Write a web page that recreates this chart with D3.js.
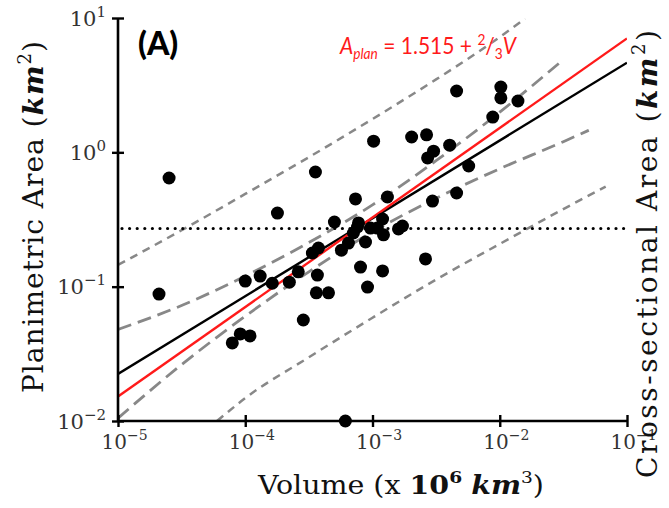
<!DOCTYPE html>
<html>
<head>
<meta charset="utf-8">
<script src="https://cdn.jsdelivr.net/npm/d3@7"></script>
<style>
  body { margin: 0; background: #fff; }
</style>
</head>
<body>
<svg id="chart" width="669" height="508"></svg>
<script>
// Volume (x 10^6 km^3) and planimetric area (km^2)
var volume = [2.52e-5, 3.56e-4, 1.79e-4, 5.02e-4, 2.1e-5, 1.0e-4, 1.31e-4, 1.63e-4, 2.22e-4, 2.61e-4,
  3.37e-4, 3.76e-4, 5.70e-4, 6.47e-4, 3.69e-4, 3.62e-4, 4.51e-4, 4.58e-3, 1.02e-2, 1.02e-2,
  1.39e-2, 8.81e-3, 1.02e-3, 2.03e-3, 2.66e-3, 4.04e-3, 3.02e-3, 2.71e-3, 5.70e-3, 7.35e-4,
  1.31e-3, 2.96e-3, 4.58e-3, 7.76e-4, 1.20e-3, 1.72e-3, 1.60e-3, 1.09e-3, 1.22e-3, 8.81e-4,
  7.08e-4, 7.62e-4, 8.05e-4, 1.20e-3, 2.61e-3, 9.14e-4, 2.86e-4, 7.91e-5, 9.14e-5, 1.09e-4,
  6.12e-4, 9.64e-4];
var area = [0.644, 0.714, 0.353, 0.303, 0.088, 0.110, 0.120, 0.106, 0.108, 0.129,
  0.178, 0.194, 0.187, 0.211, 0.122, 0.090, 0.090, 2.86, 3.06, 2.54,
  2.41, 1.83, 1.21, 1.30, 1.35, 1.13, 1.02, 0.908, 0.791, 0.450,
  0.465, 0.434, 0.498, 0.298, 0.319, 0.283, 0.269, 0.273, 0.243, 0.215,
  0.251, 0.278, 0.140, 0.131, 0.161, 0.0993, 0.0565, 0.0381, 0.0445, 0.0430,
  0.0100, 0.273];

// fitted line (black) and A = 1.515 + 2/3 V line (red), in log space
var lineV = [1e-5, 1e-1];
var fitA = [0.0224, 4.65];
var powerA = [0.0152, 7.05];

// confidence band (long dashes)
var confV = [1e-5, 3.16e-5, 1e-4, 3.16e-4, 1e-3, 3.16e-3, 1e-2, 3.16e-2];
var confHi = [0.048, 0.0724, 0.120, 0.213, 0.406, 0.867, 1.99, 4.9];
var confLoV = [1e-5, 3.16e-5, 1e-4, 3.16e-4, 1e-3, 3.16e-3, 1e-2, 3.16e-2, 5.01e-2];
var confLo = [0.0105, 0.0263, 0.0603, 0.129, 0.256, 0.455, 0.755, 1.20, 1.46];

// prediction band (short dashes)
var predHiV = [1e-5, 3.16e-5, 1e-4, 3.16e-4, 1e-3, 3.16e-3, 1e-2, 1.58e-2];
var predHi = [0.145, 0.263, 0.490, 0.920, 1.77, 3.49, 7.21, 9.9];
var predLoV = [6.0e-5, 1e-4, 3.16e-4, 1e-3, 3.16e-3, 1e-2, 3.16e-2, 6.8e-2];
var predLo = [0.0100, 0.0148, 0.0298, 0.0587, 0.113, 0.208, 0.378, 0.556];

// threshold (dotted)
var threshold = 0.271;

var xTicks = [1e-5, 1e-4, 1e-3, 1e-2, 1e-1];
var xTickExp = ["\u22125", "\u22124", "\u22123", "\u22122", "\u22121"];
var yTicks = [1e-2, 1e-1, 1, 10];
var yTickExp = ["\u22122", "\u22121", "0", "1"];

var svg = d3.select("#chart");
var x = d3.scaleLog().domain([1e-5, 1e-1]).range([118, 627]);
var y = d3.scaleLog().domain([1e-2, 10]).range([421, 18]);

var serif = "'DejaVu Serif', serif";
var sans = "Lato, 'Open Sans', sans-serif";

svg.append("defs").append("clipPath").attr("id", "plot")
  .append("rect").attr("x", 118).attr("y", 18).attr("width", 509).attr("height", 403);

var plot = svg.append("g").attr("clip-path", "url(#plot)");

function bandLine(vs, as) {
  return d3.line().curve(d3.curveMonotoneX)(vs.map(function (v, i) { return [x(v), y(as[i])]; }));
}

// prediction bands
[[predHiV, predHi], [predLoV, predLo]].forEach(function (b) {
  plot.append("path").attr("d", bandLine(b[0], b[1]))
    .attr("fill", "none").attr("stroke", "#888").attr("stroke-width", 2.5)
    .attr("stroke-dasharray", "8,6");
});
// confidence bands
[[confV, confHi], [confLoV, confLo]].forEach(function (b) {
  plot.append("path").attr("d", bandLine(b[0], b[1]))
    .attr("fill", "none").attr("stroke", "#888").attr("stroke-width", 2.8)
    .attr("stroke-dasharray", "14,7");
});

// dotted threshold
plot.append("line")
  .attr("x1", x(1e-5) + 4).attr("x2", x(1e-1))
  .attr("y1", y(threshold)).attr("y2", y(threshold))
  .attr("stroke", "#000").attr("stroke-width", 3.2)
  .attr("stroke-linecap", "round").attr("stroke-dasharray", "0,7.6");

// fit lines
plot.append("line")
  .attr("x1", x(lineV[0])).attr("x2", x(lineV[1]))
  .attr("y1", y(fitA[0])).attr("y2", y(fitA[1]))
  .attr("stroke", "#000").attr("stroke-width", 2.4);
plot.append("line")
  .attr("x1", x(lineV[0])).attr("x2", x(lineV[1]))
  .attr("y1", y(powerA[0])).attr("y2", y(powerA[1]))
  .attr("stroke", "#ff1a1a").attr("stroke-width", 2.4);

// axes
var xAxis = svg.append("g").attr("transform", "translate(0,421)")
  .call(d3.axisBottom(x).tickValues(xTicks).tickSize(6).tickFormat(""));
var yAxis = svg.append("g").attr("transform", "translate(118,0)")
  .call(d3.axisLeft(y).tickValues(yTicks).tickSize(6).tickFormat(""));
[xAxis, yAxis].forEach(function (a) {
  a.select(".domain").attr("stroke", "#000").attr("stroke-width", 2.6);
  a.selectAll(".tick line").attr("stroke", "#000").attr("stroke-width", 2.4);
});
xAxis.select(".domain").attr("d", "M118,0H627");
yAxis.select(".domain").attr("d", "M0,18V421");
xAxis.selectAll(".tick line").attr("y1", -6).attr("y2", 6);
yAxis.selectAll(".tick line").attr("x1", -6).attr("x2", 6);

xAxis.selectAll(".tick").each(function (d, i) {
  var t = d3.select(this).append("text")
    .attr("x", -17).attr("y", 28).attr("text-anchor", "start")
    .attr("fill", "#333").attr("font-family", serif).attr("font-size", 20);
  t.append("tspan").text("10");
  t.append("tspan").attr("dy", -9).attr("font-size", 14).text(xTickExp[i]);
});
yAxis.selectAll(".tick").each(function (d, i) {
  var t = d3.select(this).append("text")
    .attr("x", -12).attr("y", 7).attr("text-anchor", "end")
    .attr("fill", "#333").attr("font-family", serif).attr("font-size", 21);
  t.append("tspan").text("10");
  t.append("tspan").attr("dy", -9).attr("font-size", 15).text(yTickExp[i]);
});

// points
svg.append("g").selectAll("circle")
  .data(volume)
  .enter().append("circle")
  .attr("cx", function (d) { return x(d); })
  .attr("cy", function (d, i) { return y(area[i]); })
  .attr("r", 6.5)
  .attr("fill", "#000");

// panel letter
svg.append("text").attr("x", 138).attr("y", 55)
  .attr("font-family", sans).attr("font-weight", "900").attr("font-size", 32)
  .text("(A)");

// equation
var eq = svg.append("text").attr("x", 340).attr("y", 54)
  .attr("fill", "#ff1a1a").attr("font-family", sans).attr("font-size", 23)
  .attr("textLength", 176).attr("lengthAdjust", "spacingAndGlyphs");
eq.append("tspan").attr("font-style", "italic").text("A");
eq.append("tspan").attr("font-style", "italic").attr("font-size", 15).attr("dy", 5).text("plan");
eq.append("tspan").attr("dy", -5).text(" = 1.515 + ");
eq.append("tspan").attr("font-size", 15).attr("dy", -9).text("2");
eq.append("tspan").attr("dy", 9).text("/");
eq.append("tspan").attr("font-size", 15).attr("dy", 5).text("3");
eq.append("tspan").attr("font-style", "italic").attr("dy", -5).text("V");

// axis titles
function unitTitle(t, pre, power) {
  t.append("tspan").text(pre + "(");
  t.append("tspan").attr("font-weight", "bold").attr("font-style", "italic").text("km");
  t.append("tspan").attr("font-size", 18).attr("dy", -12).text(power);
  t.append("tspan").attr("dy", 12).text(")");
}
var yt = svg.append("text")
  .attr("transform", "translate(43,217) rotate(-90)")
  .attr("text-anchor", "middle").attr("font-family", serif).attr("font-size", 28)
  .attr("textLength", 352).attr("lengthAdjust", "spacing")
  .attr("fill", "#111");
unitTitle(yt, "Planimetric Area ", "2");

var rt = svg.append("text")
  .attr("transform", "translate(657,254) rotate(-90)")
  .attr("text-anchor", "middle").attr("font-family", serif).attr("font-size", 28)
  .attr("textLength", 448).attr("lengthAdjust", "spacing")
  .attr("fill", "#111");
unitTitle(rt, "Cross-sectional Area ", "2");

var xt = svg.append("text").attr("x", 401).attr("y", 494)
  .attr("text-anchor", "middle").attr("font-family", serif).attr("font-size", 26)
  .attr("textLength", 286).attr("lengthAdjust", "spacingAndGlyphs")
  .attr("fill", "#111");
xt.append("tspan").text("Volume (x ");
xt.append("tspan").attr("font-weight", "bold").text("10");
xt.append("tspan").attr("font-weight", "bold").attr("font-size", 17).attr("dy", -11).text("6");
xt.append("tspan").attr("dy", 11).text(" ");
xt.append("tspan").attr("font-weight", "bold").attr("font-style", "italic").text("km");
xt.append("tspan").attr("font-size", 17).attr("dy", -11).text("3");
xt.append("tspan").attr("dy", 11).text(")");
</script>
</body>
</html>
